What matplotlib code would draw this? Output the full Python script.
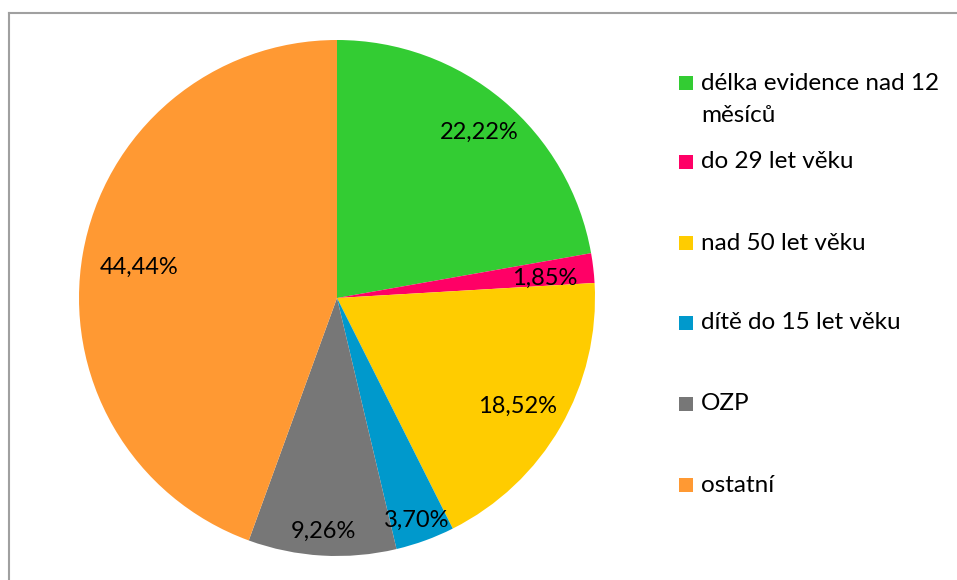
import matplotlib
matplotlib.use("Agg")
import matplotlib.pyplot as plt
from matplotlib.patches import Rectangle
from matplotlib.lines import Line2D
import numpy as np

# data
categories = ["délka evidence nad 12\nměsíců", "do 29 let věku", "nad 50 let věku",
              "dítě do 15 let věku", "OZP", "ostatní"]
shares = [22.22, 1.85, 18.52, 3.70, 9.26, 44.44]
colors = ["#33CC33", "#FF0066", "#FFCC00", "#0099CC", "#777777", "#FF9933"]

W, H = 957, 580
plt.rcParams['font.family'] = ['Lato', 'DejaVu Sans']

fig = plt.figure(figsize=(W / 100, H / 100), dpi=100)

# pie axes: centre (337, 298) px, radius 258 px
cx, cy, r = 337, 298, 258
ax = fig.add_axes([(cx - r) / W, (H - cy - r) / H, 2 * r / W, 2 * r / H])
wedges, _ = ax.pie(shares, colors=colors, startangle=90, counterclock=False,
                   radius=1, wedgeprops=dict(linewidth=0))
ax.set_xlim(-1, 1)
ax.set_ylim(-1, 1)
ax.set_aspect('equal')
ax.axis('off')

# percentage labels (Excel "best fit" style distances)
label_dist = [0.86, 0.81, 0.81, 0.90, 0.89, 0.78]
dy = -0.016  # nudge down a little, Calibri sits lower than Lato
for w, val, d in zip(wedges, shares, label_dist):
    ang = np.deg2rad((w.theta1 + w.theta2) / 2)
    txt = f"{val:.2f}".replace('.', ',') + '%'
    ax.text(d * np.cos(ang), d * np.sin(ang) + dy, txt, ha='center', va='center',
            fontsize=17, color='black')

# legend drawn by hand
leg_y = [83, 162, 243, 323, 404, 485]
sq = 14
for lab, col, y in zip(categories, colors, leg_y):
    fig.add_artist(Rectangle(((686 - sq / 2) / W, 1 - (y + sq / 2) / H), sq / W, sq / H,
                             transform=fig.transFigure, facecolor=col, edgecolor='none'))
    for k, line in enumerate(lab.split('\n')):
        fig.text(701 / W, 1 - (y + 33 * k) / H, line, ha='left', va='center',
                 fontsize=17.5, color='black')

# outer frame (top and left edges visible)
fig.add_artist(Line2D([8.5 / W, 1], [1 - 12.5 / H, 1 - 12.5 / H], color='#a0a0a0',
                      lw=1.5, transform=fig.transFigure))
fig.add_artist(Line2D([8.5 / W, 8.5 / W], [0, 1 - 12.5 / H], color='#a0a0a0',
                      lw=1.5, transform=fig.transFigure))

fig.savefig("out.png", dpi=100)
